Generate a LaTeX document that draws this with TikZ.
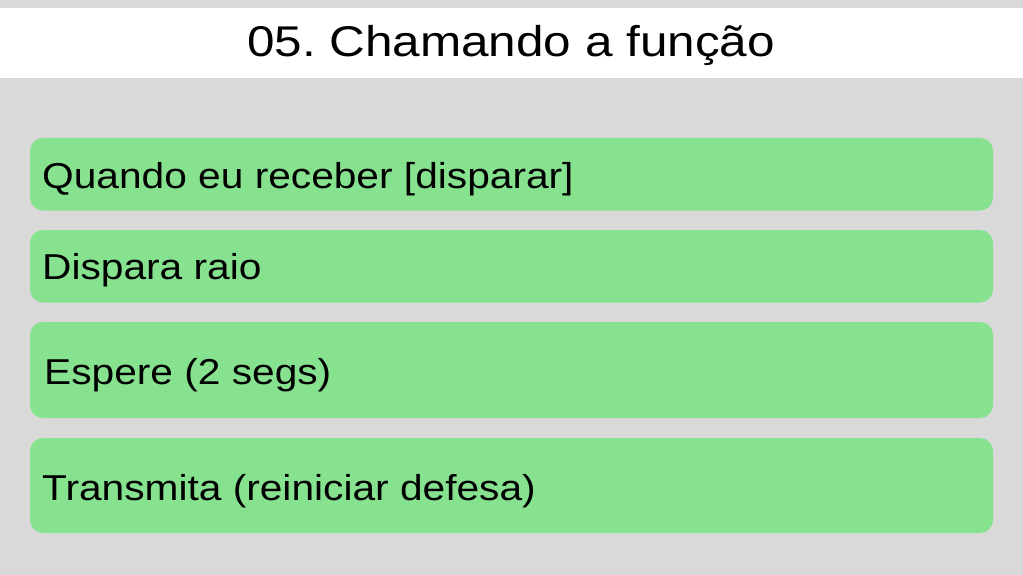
\documentclass[tikz,border=0pt]{standalone}
\usepackage{fontspec}
\setmainfont{Liberation Sans}[FakeStretch=1.15]
\newfontfamily\stepfont{Liberation Sans}[FakeStretch=1.13]
\definecolor{bggray}{HTML}{D9D9D9}
\definecolor{boxgreen}{HTML}{86E28F}
\frenchspacing
\begin{document}
\begin{tikzpicture}[x=1pt,y=-1pt,
  stepbox/.style={fill=boxgreen,draw=none,rounded corners=13pt},
  steptext/.style={anchor=base west,inner sep=0pt,font=\stepfont\fontsize{36}{40}\selectfont},
  titletext/.style={anchor=base,inner sep=0pt,font=\fontsize{43}{48}\selectfont}]
\fill[bggray] (0,0) rectangle (1023,575);
\useasboundingbox (0,0) rectangle (1023,575);
\fill[white] (0,8.5) rectangle (1023,78.5);
\node[titletext] (title) at (511,56.7) {05.\ Chamando a função};
\fill[stepbox] (30,138) rectangle (993,210.5);
\fill[stepbox] (30,230) rectangle (993,302.5);
\fill[stepbox] (30,322) rectangle (993,418);
\fill[stepbox] (30,438) rectangle (993,533);
\node[steptext] (s1) at (42,188) {Quando eu receber [disparar]};
\node[steptext] (s2) at (42,279) {Dispara raio};
\node[steptext] (s3) at (44,384) {Espere (2 segs)};
\node[steptext] (s4) at (42,500) {Transmita (reiniciar defesa)};
\end{tikzpicture}
\end{document}
